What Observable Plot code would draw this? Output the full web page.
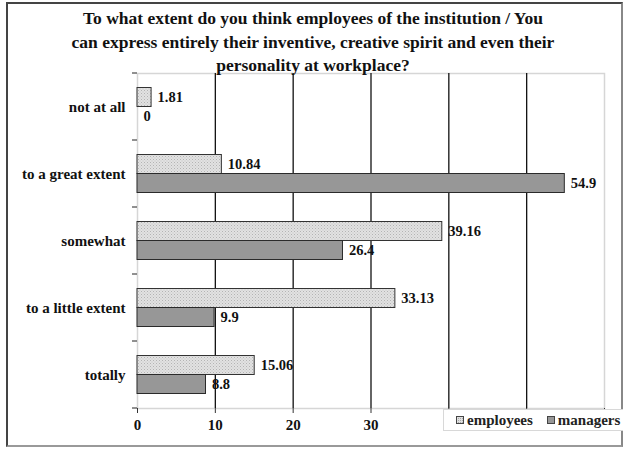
<!DOCTYPE html>
<html>
<head>
<meta charset="utf-8">
<script src="https://cdn.jsdelivr.net/npm/d3@7"></script>
<script src="https://cdn.jsdelivr.net/npm/@observablehq/plot@0.6"></script>
<style>
  html, body { margin: 0; padding: 0; background: #fff; }
  #wrap { position: relative; width: 626px; height: 451px; overflow: hidden; font-family: "Liberation Serif", "Times New Roman", serif; }
  #frame { position: absolute; left: 6px; top: 2px; width: 617px; height: 445px; border: 2px solid #444; border-bottom-color: #999; border-right-color: #888; box-sizing: border-box; }
  #title { position: absolute; left: 0; top: 7px; width: 626px; text-align: center; font-weight: bold; font-size: 17.5px; line-height: 23.5px; color: #111; z-index: 3; }
  #chart { position: absolute; left: 0; top: 0; z-index: 2; }
  #legend { position: absolute; left: 443px; top: 409px; width: 180px; height: 22px; background: #fff; border: 1px solid #d8d8d8; border-right: none; box-sizing: border-box; z-index: 4; font-weight: bold; font-size: 15px; color: #222; display: flex; align-items: center; padding-left: 12px; gap: 14px; }
  #legend span { display: inline-flex; align-items: center; gap: 3px; }
</style>
</head>
<body>
<div id="wrap">
  <div id="frame"></div>
  <div id="title">To what extent do you think employees of the institution / You<br>can express entirely their inventive, creative spirit and even their<br>personality at workplace?</div>
  <div id="chart"></div>
  <div id="legend"></div>
</div>
<script>
const categories = ["not at all", "to a great extent", "somewhat", "to a little extent", "totally"];
const series = ["employees", "managers"];
const employees = [1.81, 10.84, 39.16, 33.13, 15.06];
const managers = [0, 54.9, 26.4, 9.9, 8.8];
const xTicks = [0, 10, 20, 30, 40, 50, 60];
const xTickLabels = ["0", "10", "20", "30", "4", "", ""]; // 40-60 hidden behind the legend
const gridTicks = [10, 20, 30, 40, 50];

const data = [];
categories.forEach((c, i) => {
  data.push({category: c, series: "employees", value: employees[i]});
  data.push({category: c, series: "managers", value: managers[i]});
});
const emp = data.filter(d => d.series === "employees");
const man = data.filter(d => d.series === "managers");

const empFill = "url(#dots)";
const manFill = "#979797";

function boundaryTicks(index, scales) {
  const y = scales.y;
  const pos = categories.map(c => y(c));
  const bw = pos[1] - pos[0];
  pos.push(pos[pos.length - 1] + bw);
  const x0 = scales.x(0);
  const g = d3.create("svg:g");
  for (const p of pos) {
    g.append("line").attr("x1", x0 - 5).attr("x2", x0).attr("y1", p).attr("y2", p)
      .attr("stroke", "#222").attr("stroke-width", 1);
  }
  return g.node();
}

function defs() {
  const g = d3.create("svg:defs");
  const p = g.append("pattern").attr("id", "dots").attr("patternUnits", "userSpaceOnUse")
    .attr("width", 3).attr("height", 3);
  p.append("rect").attr("width", 3).attr("height", 3).attr("fill", "#e2e2e2");
  p.append("rect").attr("x", 0).attr("y", 0).attr("width", 1).attr("height", 1).attr("fill", "#b4b4b4");
  p.append("rect").attr("x", 1.5).attr("y", 1.5).attr("width", 1).attr("height", 1).attr("fill", "#c2c2c2");
  return g.node();
}

const font = "'Liberation Serif', 'Times New Roman', serif";

const chart = Plot.plot({
  width: 626,
  height: 451,
  marginLeft: 137,
  marginRight: 22,
  marginTop: 73,
  marginBottom: 43,
  style: {fontFamily: font, fontSize: "14px", fontWeight: "bold", color: "#111", background: "transparent"},
  x: {domain: [0, 60], ticks: xTicks},
  y: {domain: categories, padding: 0},
  marks: [
    defs,
    Plot.frame({stroke: "#d6d6d6", strokeWidth: 1.5}),
    Plot.ruleX(gridTicks, {stroke: "#111", strokeWidth: 1.3}),
    Plot.barX(emp, {x: "value", y: "category", fill: empFill, stroke: "#333", strokeWidth: 1, insetTop: 14.5, insetBottom: 33.5}),
    Plot.barX(man, {x: "value", y: "category", fill: manFill, stroke: "#2a2a2a", strokeWidth: 1, insetTop: 33.5, insetBottom: 14.5}),
    Plot.text(emp, {x: "value", y: "category", text: d => String(d.value), dx: 6, dy: -9.5, textAnchor: "start", fill: "#111", fontSize: 14.5, fontWeight: "bold"}),
    Plot.text(man, {x: "value", y: "category", text: d => String(d.value), dx: 6, dy: 9.5, textAnchor: "start", fill: "#111", fontSize: 14.5, fontWeight: "bold"}),
    Plot.axisY({tickSize: 0, tickPadding: 12, line: true, stroke: "#222", fill: "#111", fontSize: 15, fontWeight: "bold", label: null}),
    boundaryTicks,
    Plot.axisX({ticks: xTicks, tickSize: 5, tickPadding: 6, line: true, stroke: "#333", fill: "#111", fontSize: 15, fontWeight: "bold", label: null, tickFormat: (d, i) => xTickLabels[xTicks.indexOf(d)]})
  ]
});
document.getElementById("chart").appendChild(chart);

// legend
const legend = d3.select("#legend");
const legendItems = [{name: series[0], fill: empFill}, {name: series[1], fill: manFill}];
for (const it of legendItems) {
  const s = legend.append("span");
  const sv = s.append("svg").attr("width", 8).attr("height", 8);
  sv.append("defs").html('<pattern id="dotsL" patternUnits="userSpaceOnUse" width="2" height="2"><rect width="2" height="2" fill="#e0e0e0"/><rect width="1" height="1" fill="#aaa"/></pattern>');
  sv.append("rect").attr("x", 0.5).attr("y", 0.5).attr("width", 7).attr("height", 7)
    .attr("fill", it.name === "employees" ? "url(#dotsL)" : it.fill).attr("stroke", "#444");
  s.append("text").text(it.name);
}
</script>
</body>
</html>
